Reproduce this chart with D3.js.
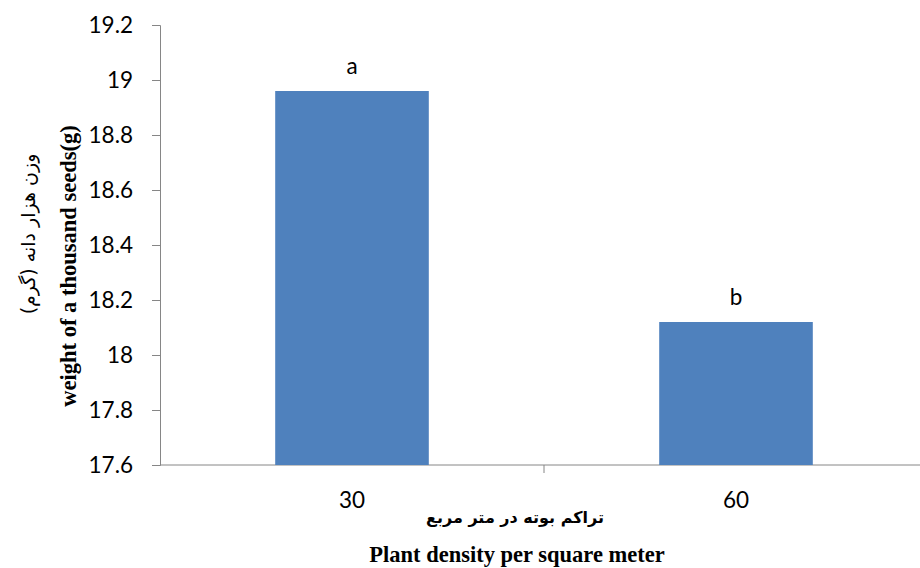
<!DOCTYPE html>
<html>
<head>
<meta charset="utf-8">
<script src="https://cdn.jsdelivr.net/npm/d3@7"></script>
<style>
  body { margin: 0; background: #fff; }
  svg { display: block; }
</style>
</head>
<body>
<div id="vis"></div>
<script>
// seed weight by plant density

var densities = ['30', '60'];
var seedWeight = [18.96, 18.12];
var letters = ['a', 'b'];
var yTicks = [17.6, 17.8, 18, 18.2, 18.4, 18.6, 18.8, 19, 19.2];

var W = 920, H = 568;
var margin = {left: 160, right: -8, top: 25, bottom: 103};

svg = d3.select('#vis').append('svg')
        .attr('width', W)
        .attr('height', H);

var x = d3.scaleBand()
  .domain(densities)
  .range([margin.left, W - margin.right]);

var y = d3.scaleLinear()
  .domain([17.6, 19.2])
  .range([H - margin.bottom, margin.top]);

var axisColor = '#868686';
var tickFont = 'Lato, "Open Sans", sans-serif';

// y axis
var yAxis = svg.append('g')
  .attr('transform', 'translate(' + margin.left + ',0)')
  .call(d3.axisLeft(y).tickValues(yTicks).tickSize(8).tickPadding(19)
    .tickFormat(function(d) { return d3.format('')(+d.toFixed(1)); }));
yAxis.select('.domain').attr('stroke', axisColor);
yAxis.selectAll('.tick line').attr('stroke', axisColor);
yAxis.selectAll('.tick text')
  .attr('fill', '#000')
  .style('font-family', tickFont)
  .style('font-size', '22.5px');

// x axis (ticks between categories)
var xAxisG = svg.append('g')
  .attr('transform', 'translate(0,' + y(17.6) + ')');
xAxisG.append('line')
  .attr('x1', margin.left).attr('x2', W)
  .attr('stroke', axisColor);
x.domain().forEach(function(d, i) {
  if (i > 0) {
    xAxisG.append('line')
      .attr('x1', x(d)).attr('x2', x(d))
      .attr('y1', 0).attr('y2', 8)
      .attr('stroke', axisColor);
  }
});
xAxisG.selectAll('text.xlab')
  .data(densities)
  .enter().append('text')
  .attr('class', 'xlab')
  .attr('x', function(d) { return x(d) + x.bandwidth() / 2; })
  .attr('y', 43)
  .attr('text-anchor', 'middle')
  .style('font-family', tickFont)
  .style('font-size', '22.5px')
  .text(function(d) { return d; });

// bars
var barW = x.bandwidth() * 0.4;
svg.selectAll('rect.bar')
  .data(seedWeight)
  .enter().append('rect')
  .attr('class', 'bar')
  .attr('x', function(d, i) { return x(densities[i]) + (x.bandwidth() - barW) / 2; })
  .attr('y', function(d) { return y(d); })
  .attr('width', barW)
  .attr('height', function(d) { return y(17.6) - y(d); })
  .attr('fill', '#4F81BD');

// significance letters
svg.selectAll('text.letter')
  .data(seedWeight)
  .enter().append('text')
  .attr('class', 'letter')
  .attr('x', function(d, i) { return x(densities[i]) + x.bandwidth() / 2; })
  .attr('y', function(d) { return y(d) - 17; })
  .attr('text-anchor', 'middle')
  .style('font-family', tickFont)
  .style('font-size', '22.5px')
  .text(function(d, i) { return letters[i]; });

// axis titles
svg.append('text')
  .attr('x', 515).attr('y', 523)
  .attr('text-anchor', 'middle')
  .attr('direction', 'rtl')
  .style('font-family', '"DejaVu Sans", sans-serif')
  .style('font-weight', 'bold')
  .style('font-size', '16px')
  .text('تراکم بوته  در متر مربع');

svg.append('text')
  .attr('x', 517).attr('y', 562)
  .attr('text-anchor', 'middle')
  .style('font-family', '"Liberation Serif", serif')
  .style('font-weight', 'bold')
  .style('font-size', '22.5px')
  .text('Plant density per square meter');

svg.append('text')
  .attr('transform', 'translate(76,266) rotate(-90)')
  .attr('text-anchor', 'middle')
  .style('font-family', '"Liberation Serif", serif')
  .style('font-weight', 'bold')
  .style('font-size', '22.5px')
  .text('weight of a thousand seeds(g)');

svg.append('text')
  .attr('transform', 'translate(35,234) rotate(-90)')
  .attr('text-anchor', 'middle')
  .attr('direction', 'rtl')
  .style('font-family', '"DejaVu Sans", sans-serif')
  .style('font-size', '19px')
  .text('وزن هزار دانه (گرم)');
</script>
</body>
</html>
